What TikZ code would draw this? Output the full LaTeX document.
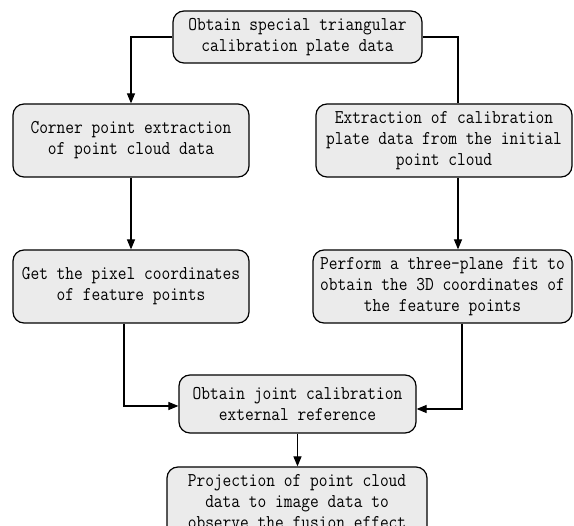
\documentclass[tikz,border=0pt]{standalone}
\usepackage{fontspec}
\newfontfamily\boxfont[FakeStretch=0.87]{Latin Modern Mono}
\usetikzlibrary{arrows.meta}
\definecolor{boxfill}{RGB}{235,235,235}
\tikzset{
  box/.style={draw=black, line width=1.2pt, fill=boxfill, rounded corners=11pt,
    align=center, inner sep=2pt, font=\boxfont\fontsize{19.5}{21}\selectfont},
  conn/.style={draw=black, line width=1.15pt},
  arr/.style={conn, -{Triangle[length=10pt,width=8pt]}}
}
\begin{document}
\begin{tikzpicture}[x=1pt,y=-1pt]
\useasboundingbox (0,0) rectangle (574,526);
\clip (0,0) rectangle (574,526);
\node[box, minimum width=249pt, minimum height=52pt] (top) at (297.5,37)
  {Obtain special triangular\\calibration plate data};
\node[box, minimum width=236pt, minimum height=73pt] (b2) at (131,140.5)
  {Corner point extraction\\of point cloud data};
\node[box, minimum width=256pt, minimum height=73pt] (b3) at (444,140.5)
  {Extraction of calibration\\plate data from the initial\\point cloud};
\node[box, minimum width=236pt, minimum height=73pt] (b4) at (131,286.5)
  {Get the pixel coordinates\\of feature points};
\node[box, minimum width=259pt, minimum height=73pt] (b5) at (442.5,286.5)
  {Perform a three-plane fit to\\obtain the 3D coordinates of\\the feature points};
\node[box, minimum width=237pt, minimum height=58pt] (b6) at (297.5,404)
  {Obtain joint calibration\\external reference};
\node[box, minimum width=260pt, minimum height=70pt] (b7) at (297,502)
  {Projection of point cloud\\data to image data to\\observe the fusion effect};

\draw[arr] (top.west) -| (b2.north);
\draw[conn] (top.east) -| ([xshift=14pt]b3.north);
\draw[arr] (b2.south) -- (b4.north);
\draw[arr] ([xshift=14pt]b3.south) -- ([xshift=14pt]b3.south |- b5.north);
\draw[arr] ([xshift=-7pt]b4.south) |- ([yshift=-2pt]b6.west);
\draw[arr] ([xshift=19.5pt]b5.south) |- ([yshift=-5pt]b6.east);
\draw[arr] (b6.south) -- (b6.south |- b7.north);
\end{tikzpicture}
\end{document}
